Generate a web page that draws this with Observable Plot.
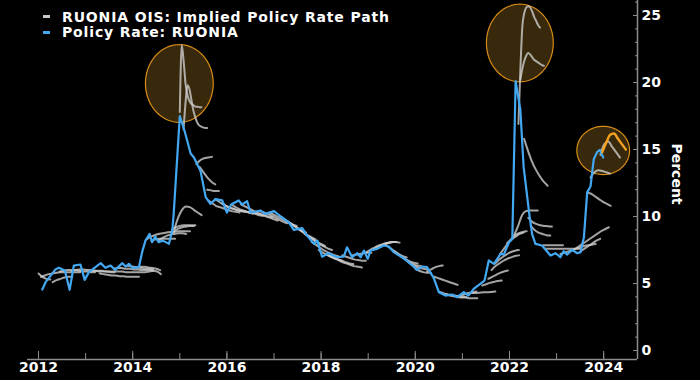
<!DOCTYPE html>
<html><head><meta charset="utf-8">
<script src="https://cdn.jsdelivr.net/npm/d3@7"></script>
<script src="https://cdn.jsdelivr.net/npm/@observablehq/plot@0.6"></script>
<style>
html,body{margin:0;padding:0;background:#000;overflow:hidden;}
#wrap{position:relative;width:700px;height:380px;}
.legend{position:absolute;left:43px;top:9px;font:bold 14px "DejaVu Sans",sans-serif;letter-spacing:0.85px;color:#fff;}
.legend .row{display:flex;align-items:center;height:15.5px;white-space:nowrap;}
.legend .sw{width:7px;height:3px;margin-right:12px;}
</style>
</head><body>
<div id="wrap"></div>
<script>
// ---- data ----
const legendLabels = ["RUONIA OIS: Implied Policy Rate Path", "Policy Rate: RUONIA"];
const legendColors = ["#c8c8c8", "#42a8f2"];
const yTicksMajor = [0, 5, 10, 15, 20, 25];
const xYears = [2012, 2013, 2014, 2015, 2016, 2017, 2018, 2019, 2020, 2021, 2022, 2023, 2024];
const xLabelYears = [2012, 2014, 2016, 2018, 2020, 2022, 2024];

// Policy rate: RUONIA (decimal year, percent)
const ruonia = [
  [2012.08,4.55],[2012.15,5.1],[2012.36,6.05],[2012.43,6.17],[2012.56,5.97],[2012.66,4.53],[2012.75,6.34],
  [2012.89,6.42],[2012.98,5.27],[2013.07,5.85],[2013.32,6.52],[2013.42,6.17],[2013.53,6.34],[2013.63,6.02],
  [2013.78,6.52],[2013.85,6.27],[2013.92,6.47],[2013.99,6.17],[2014.13,6.22],[2014.2,7.34],[2014.27,8.2],
  [2014.36,8.7],[2014.41,8.08],[2014.48,8.5],[2014.55,8.08],[2014.64,8.2],[2014.77,7.96],[2014.84,8.95],
  [2014.87,10.2],[2015.0,17.5],[2015.1,16.4],[2015.23,14.7],[2015.3,14.4],[2015.44,13.4],[2015.55,11.44],
  [2015.65,10.95],[2015.76,11.3],[2015.9,11.2],[2016.0,10.3],[2016.09,10.9],[2016.25,11.2],[2016.32,10.9],
  [2016.43,11.14],[2016.5,10.3],[2016.71,10.45],[2016.82,10.2],[2017.0,10.4],[2017.14,10.0],[2017.31,9.58],
  [2017.42,9.0],[2017.6,9.13],[2017.7,8.58],[2017.85,7.96],[2017.92,8.2],[2018.02,7.0],[2018.16,7.26],
  [2018.34,6.96],[2018.48,7.0],[2018.55,7.7],[2018.66,6.96],[2018.77,7.26],[2018.84,6.96],[2018.91,7.46],
  [2018.99,6.84],[2019.05,7.46],[2019.19,7.59],[2019.33,7.84],[2019.44,7.76],[2019.54,7.34],[2019.72,6.96],
  [2019.86,6.59],[2020.04,6.02],[2020.15,6.27],[2020.25,6.22],[2020.39,5.42],[2020.5,4.35],[2020.64,4.1],
  [2020.78,4.18],[2020.89,3.98],[2021.03,4.35],[2021.13,4.1],[2021.24,4.6],[2021.38,4.98],[2021.47,5.22],
  [2021.56,6.72],[2021.67,6.47],[2021.81,7.21],[2021.88,7.16],[2021.99,8.08],[2022.06,8.33],[2022.13,20.1],
  [2022.23,18.0],[2022.3,13.7],[2022.42,10.2],[2022.48,8.7],[2022.55,7.96],[2022.69,7.84],[2022.87,7.09],
  [2022.98,7.26],[2023.08,6.96],[2023.15,7.41],[2023.22,7.16],[2023.33,7.51],[2023.44,7.26],[2023.51,7.34],
  [2023.58,8.46],[2023.65,11.8],[2023.72,12.24],[2023.79,14.3],[2023.86,14.8],[2023.92,14.97],[2023.99,14.4]
];

// Latest implied path (highlighted orange)
const latestPath = {start: 2023.97, step: 1, values: [14.8, 15.5, 16.1, 16.2, 15.8, 15.4, 15.0]};

// RUONIA OIS implied paths: start (decimal year), step (months), values (percent)
const oisPaths = [
  {start: 2012.00, step: 1, values: [5.75, 5.5, 5.35, 5.3]},
  {start: 2012.05, step: 1, values: [5.5, 5.6, 5.7, 5.75, 5.8, 5.85, 5.85, 5.85, 5.85, 5.85, 5.85]},
  {start: 2012.30, step: 1, values: [5.1, 5.25, 5.35, 5.45, 5.5, 5.5]},
  {start: 2012.45, step: 1, values: [5.9, 5.95, 6.0, 6.0, 6.0, 5.95, 5.9, 5.9, 5.85, 5.85]},
  {start: 2012.70, step: 1, values: [5.9, 6.0, 6.05, 6.05, 6.0, 6.0, 5.95, 5.9, 5.9, 5.9, 5.85, 5.85]},
  {start: 2013.10, step: 1, values: [5.9, 5.95, 5.95, 5.95, 5.9, 5.9, 5.9, 5.9, 5.9, 5.85, 5.85, 5.85, 5.85, 5.85, 5.85, 5.9, 5.95]},
  {start: 2013.30, step: 1, values: [5.75, 5.7, 5.65, 5.6, 5.6, 5.55, 5.55, 5.5, 5.5, 5.5, 5.5]},
  {start: 2013.60, step: 1, values: [6.1, 6.15, 6.15, 6.1, 6.1, 6.05, 6.05, 6.0, 6.0, 6.0, 5.95, 5.9, 5.7]},
  {start: 2013.85, step: 1, values: [6.3, 6.3, 6.25, 6.2, 6.15, 6.1, 6.1, 6.05]},
  {start: 2014.00, step: 1, values: [6.2, 6.2, 6.25, 6.25, 6.2, 6.15, 6.1, 6.0]},
  {start: 2014.30, step: 1, values: [8.3, 8.5, 8.6, 8.7, 8.75, 8.8, 8.85, 8.85, 8.9, 8.9, 8.9, 8.9]},
  {start: 2014.40, step: 1, values: [8.2, 8.3, 8.35, 8.35, 8.35, 8.35, 8.35]},
  {start: 2014.55, step: 1, values: [8.2, 8.4, 8.55, 8.65, 8.7, 8.75, 8.75, 8.7]},
  {start: 2014.80, step: 1, values: [8.6, 8.9, 9.1, 9.2, 9.25, 9.3, 9.3]},
  {start: 2014.83, step: 1, values: [9.0, 9.2, 9.3, 9.35, 9.35, 9.35, 9.35]},
  {start: 2014.88, step: 1, values: [9.0, 9.9, 10.5, 10.75, 10.7, 10.5, 10.3, 10.1]},
  {start: 2015.00, step: 0.5, values: [17.8, 22.8, 21.5, 19.8, 19.0, 18.6, 18.4, 18.3, 18.2, 18.2, 18.15, 18.15]},
  {start: 2015.08, step: 0.5, values: [16.5, 18.5, 19.8, 19.5, 18.7, 17.9, 17.4, 17.0, 16.8, 16.7, 16.65, 16.6, 16.6]},
  {start: 2015.35, step: 1, values: [13.9, 14.2, 14.35, 14.4, 14.45]},
  {start: 2015.42, step: 1, values: [13.7, 13.3, 12.9, 12.6, 12.4]},
  {start: 2015.58, step: 1, values: [12.0, 11.95, 11.9, 11.9]},
  {start: 2015.60, step: 1, values: [11.2, 11.0, 10.8, 10.7, 10.6, 10.5, 10.4, 10.35, 10.3]},
  {start: 2015.75, step: 1, values: [11.3, 11.1, 10.9, 10.75, 10.65, 10.55, 10.45, 10.4, 10.35, 10.3]},
  {start: 2015.90, step: 1, values: [11.0, 10.8, 10.65, 10.55, 10.45, 10.4, 10.35, 10.3, 10.25]},
  {start: 2016.10, step: 1, values: [10.9, 10.7, 10.55, 10.45, 10.35, 10.25, 10.2, 10.1, 10.05]},
  {start: 2016.30, step: 1, values: [10.9, 10.75, 10.6, 10.45, 10.3, 10.2, 10.1, 10.0, 9.95]},
  {start: 2016.50, step: 1, values: [10.4, 10.3, 10.2, 10.1, 10.0, 9.9, 9.8, 9.7]},
  {start: 2016.70, step: 1, values: [10.4, 10.3, 10.2, 10.05, 9.9, 9.75, 9.6, 9.5]},
  {start: 2016.90, step: 1, values: [10.3, 10.15, 10.0, 9.85, 9.7, 9.55, 9.4, 9.3]},
  {start: 2017.10, step: 1, values: [10.1, 9.9, 9.7, 9.5, 9.3, 9.1, 8.95, 8.8]},
  {start: 2017.30, step: 1, values: [9.6, 9.4, 9.2, 9.0, 8.8, 8.6, 8.45, 8.3]},
  {start: 2017.50, step: 1, values: [9.1, 8.9, 8.7, 8.5, 8.3, 8.1, 7.95, 7.8]},
  {start: 2017.65, step: 1, values: [8.7, 8.5, 8.3, 8.1, 7.9, 7.75, 7.6, 7.5]},
  {start: 2017.80, step: 1, values: [8.1, 7.9, 7.7, 7.5, 7.35, 7.2, 7.1, 7.0]},
  {start: 2017.95, step: 1, values: [7.5, 7.3, 7.15, 7.0, 6.9, 6.8, 6.7]},
  {start: 2018.10, step: 1, values: [7.2, 7.05, 6.9, 6.8, 6.7, 6.6, 6.5, 6.45]},
  {start: 2018.20, step: 1, values: [7.1, 6.9, 6.75, 6.6, 6.5, 6.4, 6.3, 6.25, 6.2]},
  {start: 2018.45, step: 1, values: [7.1, 7.0, 6.9, 6.8, 6.75, 6.7, 6.7]},
  {start: 2018.65, step: 1, values: [7.1, 7.15, 7.2, 7.25, 7.3, 7.3]},
  {start: 2018.95, step: 1, values: [7.3, 7.5, 7.65, 7.8, 7.9, 8.0, 8.05, 8.1]},
  {start: 2019.10, step: 1, values: [7.5, 7.7, 7.85, 7.95, 8.05, 8.1, 8.1]},
  {start: 2019.25, step: 1, values: [7.75, 7.9, 8.0, 8.1, 8.1, 8.05]},
  {start: 2019.40, step: 1, values: [7.8, 7.6, 7.4, 7.2, 7.05, 6.95]},
  {start: 2019.55, step: 1, values: [7.4, 7.2, 7.0, 6.8, 6.65, 6.55, 6.5]},
  {start: 2019.70, step: 1, values: [7.0, 6.8, 6.6, 6.45, 6.35, 6.3]},
  {start: 2019.85, step: 1, values: [6.6, 6.4, 6.25, 6.15, 6.1, 6.05]},
  {start: 2020.00, step: 1, values: [6.1, 5.95, 5.85, 5.8, 5.8]},
  {start: 2020.25, step: 1, values: [5.9, 6.05, 6.2, 6.3, 6.35]},
  {start: 2020.40, step: 1, values: [5.5, 5.4, 5.3, 5.2, 5.1, 5.0, 4.9]},
  {start: 2020.50, step: 1, values: [4.4, 4.3, 4.2, 4.15, 4.1, 4.05, 4.0, 4.0]},
  {start: 2020.65, step: 1, values: [4.2, 4.1, 4.05, 4.0, 3.95, 3.95, 3.9, 3.9, 3.9]},
  {start: 2020.80, step: 1, values: [4.1, 4.05, 4.1, 4.2, 4.3, 4.35, 4.4]},
  {start: 2021.20, step: 1, values: [4.3, 4.3, 4.32, 4.35, 4.35, 4.37, 4.4]},
  {start: 2021.42, step: 1, values: [4.85, 4.95, 5.05, 5.12, 5.18, 5.22]},
  {start: 2021.55, step: 1, values: [5.35, 5.5, 5.65, 5.8, 5.9, 5.97]},
  {start: 2021.62, step: 1, values: [6.0, 6.3, 6.5, 6.7, 6.85, 6.95, 7.05, 7.1]},
  {start: 2021.70, step: 1, values: [6.5, 6.8, 7.0, 7.2, 7.35, 7.45, 7.5]},
  {start: 2021.80, step: 1, values: [7.2, 7.6, 8.0, 8.3, 8.5, 8.7, 8.8]},
  {start: 2021.95, step: 1, values: [8.0, 8.3, 8.6, 8.75, 8.85, 8.9]},
  {start: 2022.10, step: 1, values: [8.6, 9.3, 10.1, 10.4, 10.45, 10.45, 10.45]},
  {start: 2022.19, step: 0.5, values: [16.9, 21.0, 24.2, 25.2, 25.6, 25.7, 25.6, 25.3, 24.9, 24.6, 24.3, 24.1]},
  {start: 2022.23, step: 0.5, values: [20.2, 21.0, 21.6, 22.0, 22.2, 22.1, 21.9, 21.7, 21.6, 21.5, 21.4, 21.3, 21.25]},
  {start: 2022.31, step: 1, values: [15.8, 14.9, 14.1, 13.5, 13.0, 12.6, 12.3]},
  {start: 2022.40, step: 1, values: [9.9, 9.6, 9.45, 9.35, 9.3, 9.28, 9.25]},
  {start: 2022.45, step: 1, values: [9.3, 9.0, 8.8, 8.7, 8.6, 8.58]},
  {start: 2022.72, step: 1, values: [7.85, 7.85, 7.85, 7.85, 7.85, 7.85]},
  {start: 2022.76, step: 1, values: [7.6, 7.6, 7.6, 7.6, 7.6, 7.6, 7.6, 7.6, 7.6, 7.6]},
  {start: 2023.08, step: 1, values: [7.2, 7.3, 7.4, 7.5, 7.6, 7.7, 7.8, 7.85, 7.9, 7.95]},
  {start: 2023.36, step: 1, values: [7.5, 7.7, 7.9, 8.1, 8.3, 8.5, 8.7, 8.9, 9.05, 9.2]},
  {start: 2023.51, step: 1, values: [7.4, 7.6, 7.8, 8.0, 8.2, 8.33]},
  {start: 2023.65, step: 1, values: [11.8, 11.7, 11.5, 11.3, 11.1, 10.95, 10.8]},
  {start: 2023.72, step: 1, values: [12.9, 13.3, 13.45, 13.4, 13.3, 13.2]},
  {start: 2023.93, step: 1, values: [14.6, 15.4, 15.6, 15.2, 14.8, 14.4]}
];

// Highlight ellipses: centre (year, percent), half-width (years), half-height (percent)
const highlights = [
  {cx: 2014.99, cy: 19.93, rx: 0.72, ry: 2.9},
  {cx: 2022.22, cy: 22.95, rx: 0.71, ry: 2.9},
  {cx: 2023.99, cy: 14.93, rx: 0.56, ry: 1.8}
];

// ---- build ----
const toRows = (p, id) => p.values.map((v, j) => ({id, t: p.start + j * p.step / 12, v}));
const grayRows = oisPaths.flatMap((p, i) => toRows(p, i));
const latestRows = toRows(latestPath, 0);
const rateRows = ruonia.map(([t, v]) => ({t, v}));
const ellipseRows = highlights.flatMap((h, i) =>
  d3.range(0, 72).map(k => {
    const a = k / 72 * 2 * Math.PI;
    return {id: i, t: h.cx + h.rx * Math.cos(a), v: h.cy + h.ry * Math.sin(a)};
  }));

const xDomain = [2011.766, 2024.718];
const yDomain = [-0.67, 26.12];
const axisColor = "#8c8c8c";

const chart = Plot.plot({
  width: 700,
  height: 380,
  marginLeft: 27,
  marginRight: 63,
  marginTop: 0,
  marginBottom: 21,
  style: {background: "#000", color: "#fff", fontFamily: "'DejaVu Sans', sans-serif", fontSize: "14px", fontWeight: "bold", overflow: "visible"},
  x: {domain: xDomain, axis: null},
  y: {domain: yDomain, axis: null},
  marks: [
    Plot.line(ellipseRows, {x: "t", y: "v", z: "id", curve: "linear-closed", fill: "#38290c", stroke: "#d68c16", strokeWidth: 1.2}),
    Plot.line(grayRows, {x: "t", y: "v", z: "id", curve: "monotone-x", stroke: "#cdcdcd", strokeOpacity: 0.8, strokeWidth: 2}),
    Plot.line(rateRows, {x: "t", y: "v", stroke: "#42a8f2", strokeWidth: 2.2}),
    Plot.line(latestRows, {x: "t", y: "v", curve: "monotone-x", stroke: "#f5a21e", strokeWidth: 2.4}),
    // axis lines
    Plot.ruleY([yDomain[0]], {stroke: axisColor, strokeWidth: 1.5}),
    Plot.ruleX([xDomain[1]], {stroke: axisColor, strokeWidth: 1.5}),
    // x ticks and labels
    Plot.axisX(xYears, {anchor: "bottom", tickSize: -6, tickFormat: () => "", stroke: axisColor, label: null}),
    Plot.axisX(xLabelYears, {anchor: "bottom", tickSize: -8, tickFormat: () => "", stroke: axisColor, label: null}),
    Plot.axisX(xLabelYears, {anchor: "bottom", tickSize: 0, tickPadding: 3, tickFormat: d => String(d), fill: "#fff", fontSize: 14, fontWeight: "bold", label: null}),
    // y ticks and labels
    Plot.axisY(d3.range(0, 27), {anchor: "right", tickSize: -3, tickFormat: () => "", stroke: axisColor, label: null}),
    Plot.axisY(yTicksMajor, {anchor: "right", tickSize: -5, tickFormat: () => "", stroke: axisColor, label: null}),
    Plot.axisY(yTicksMajor, {anchor: "right", tickSize: 0, tickPadding: 4, tickFormat: d => String(d), fill: "#fff", fontSize: 14, fontWeight: "bold", label: null}),
    Plot.text(["Percent"], {frameAnchor: "right", dx: 39, dy: -6, rotate: 90, textAnchor: "middle", fill: "#fff", fontSize: 14, fontWeight: "bold"})
  ]
});

const wrap = document.getElementById("wrap");
wrap.appendChild(chart);
const legend = document.createElement("div");
legend.className = "legend";
legendLabels.forEach((label, i) => {
  const row = document.createElement("div");
  row.className = "row";
  const sw = document.createElement("span");
  sw.className = "sw";
  sw.style.background = legendColors[i];
  const tx = document.createElement("span");
  tx.textContent = label;
  row.appendChild(sw); row.appendChild(tx);
  legend.appendChild(row);
});
wrap.appendChild(legend);
</script>
</body></html>
